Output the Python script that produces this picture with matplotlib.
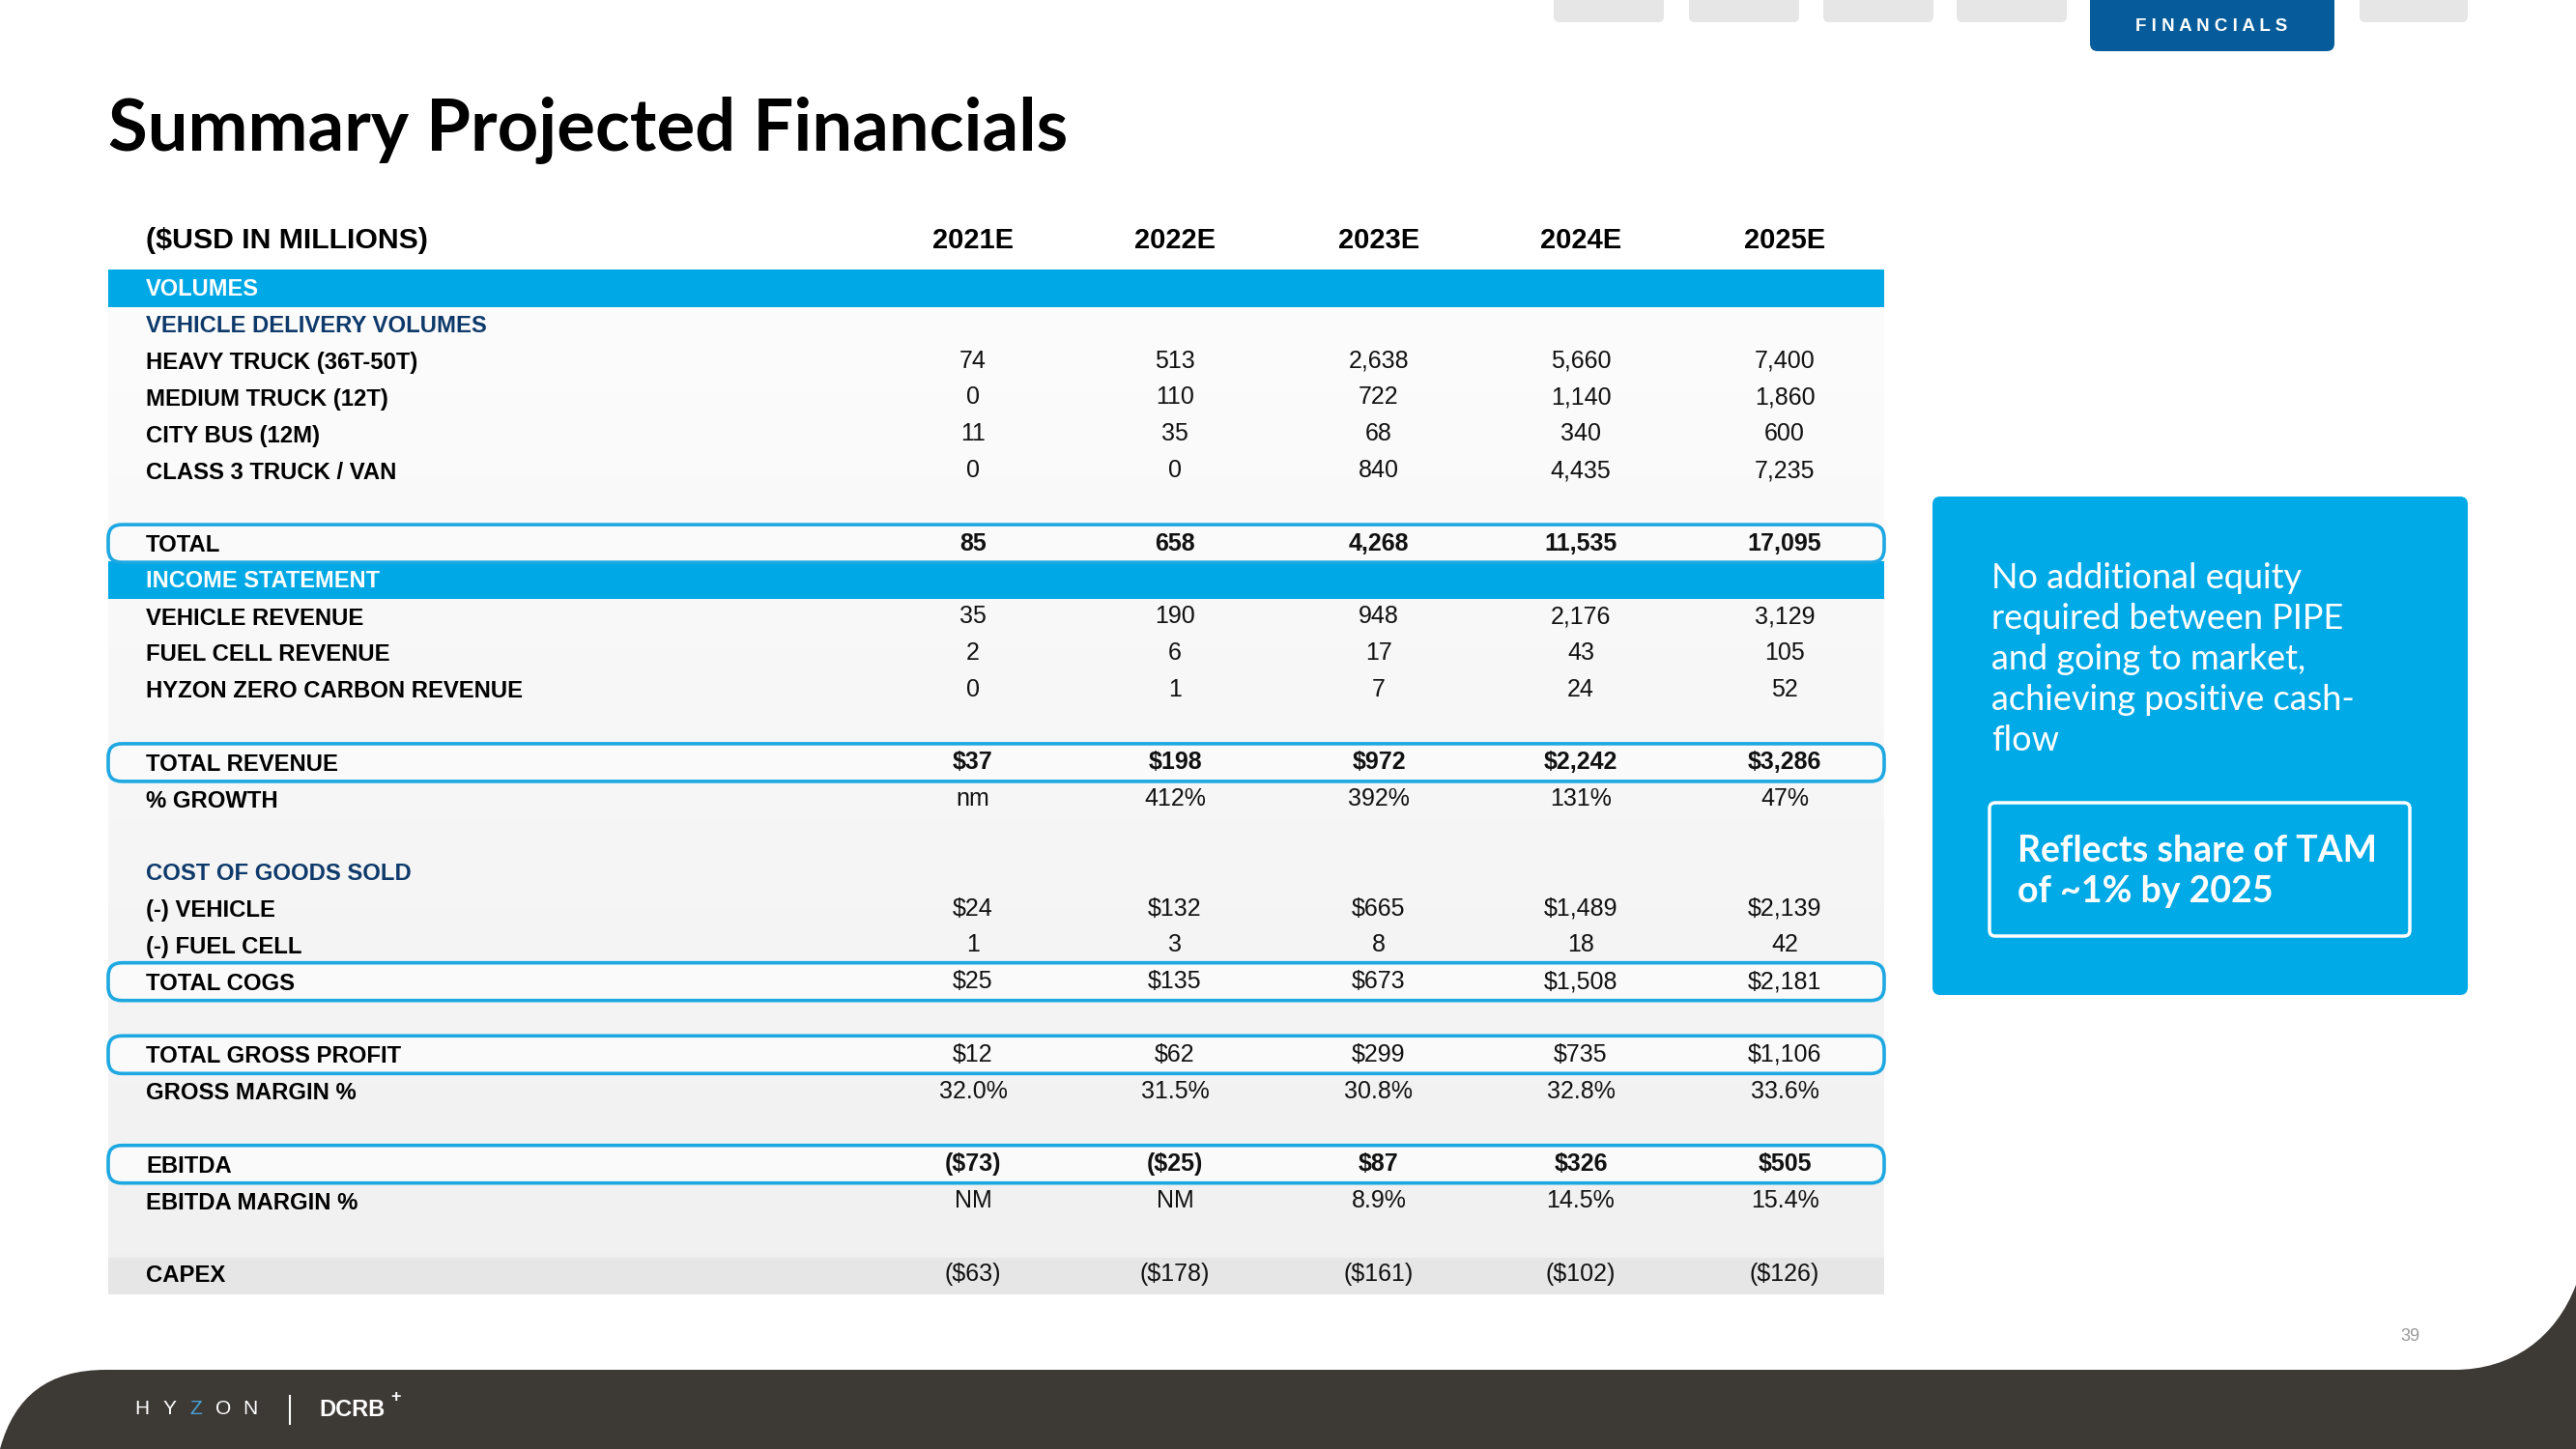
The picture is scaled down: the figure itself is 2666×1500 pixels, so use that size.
import numpy as np
import matplotlib
matplotlib.use("Agg")
import matplotlib.pyplot as plt
from matplotlib import font_manager
from matplotlib.patches import Rectangle, FancyBboxPatch, PathPatch
from matplotlib.path import Path

# data
years = ['2021E', '2022E', '2023E', '2024E', '2025E']
heavy_truck = [74, 513, 2638, 5660, 7400]
medium_truck = [0, 110, 722, 1140, 1860]
city_bus = [11, 35, 68, 340, 600]
class3_van = [0, 0, 840, 4435, 7235]
total_units = [85, 658, 4268, 11535, 17095]
vehicle_rev = [35, 190, 948, 2176, 3129]
fuel_cell_rev = [2, 6, 17, 43, 105]
zero_carbon_rev = [0, 1, 7, 24, 52]
total_rev = [37, 198, 972, 2242, 3286]
rev_growth = ['nm', '412%', '392%', '131%', '47%']
cogs_vehicle = [24, 132, 665, 1489, 2139]
cogs_fuel_cell = [1, 3, 8, 18, 42]
total_cogs = [25, 135, 673, 1508, 2181]
gross_profit = [12, 62, 299, 735, 1106]
gross_margin = [32.0, 31.5, 30.8, 32.8, 33.6]
ebitda = [-73, -25, 87, 326, 505]
ebitda_margin = ['NM', 'NM', '8.9%', '14.5%', '15.4%']
capex = [-63, -178, -161, -102, -126]

# fonts
names = {f.name for f in font_manager.fontManager.ttflist}
def pick(*cands):
    for c in cands:
        if c in names:
            return c
    return 'DejaVu Sans'
TAB = pick('Liberation Sans', 'Noto Sans')
TITLE = pick('Lato', 'Liberation Sans')
BODY = pick('Lato', 'Open Sans')

BLUE = '#00a9e6'
EDGE = '#1ea8e2'
NAVY = '#0e3a6b'
DARK = '#3d3935'


def cnt(v):
    return f'{v:,}'


def usd(v):
    return f'${v:,}' if v >= 0 else f'(${-v:,})'


def pct(v):
    return f'{v:.1f}%'


fig = plt.figure(figsize=(26.66, 15), dpi=100)
ax = fig.add_axes([0, 0, 1, 1])
ax.set_xlim(0, 2666)
ax.set_ylim(1500, 0)
ax.axis('off')

# top tabs
for x0, x1 in [(1608, 1722), (1748, 1862), (1887, 2001), (2025, 2139), (2442, 2554)]:
    ax.add_patch(FancyBboxPatch((x0, -20), x1 - x0, 43, boxstyle='round,pad=0,rounding_size=6',
                                fc='#e6e6e6', ec='none'))
ax.add_patch(FancyBboxPatch((2163, -20), 253, 73, boxstyle='round,pad=0,rounding_size=8',
                            fc='#065c9a', ec='none'))
ax.text(2289, 27, 'F I N A N C I A L S', color='white', fontsize=13.5, fontweight='bold',
        family=TAB, ha='center', va='center')

# title
ax.text(112, 135, 'Summary Projected Financials', fontsize=53.5, fontweight='bold',
        family=TITLE, va='center', ha='left', color='black')

# table
L, R = 112, 1950
col_x = [1007, 1216, 1427, 1636, 1847]
y0, pitch = 298, 37.8


def ry(i):
    return y0 + i * pitch


grad = np.linspace(0, 1, 200).reshape(-1, 1)
top_c = np.array([0.988, 0.988, 0.988])
bot_c = np.array([0.945, 0.945, 0.945])
img = top_c + grad[..., None] * (bot_c - top_c)
img = np.repeat(img, 2, axis=1)
ax.imshow(img, extent=[L, R, 1302, 318], aspect='auto', zorder=0)

ax.text(151, 249, '($USD IN MILLIONS)', fontsize=21.8, fontweight='bold', family=TAB,
        va='center', ha='left')
for x, yr in zip(col_x, years):
    ax.text(x, 249, yr, fontsize=21, fontweight='bold', family=TAB, ha='center', va='center')

bands = [(0, 'VOLUMES'), (8, 'INCOME STATEMENT')]
for i, name in bands:
    ax.add_patch(Rectangle((L, ry(i) - 19.5), R - L, 39, fc=BLUE, ec='none', zorder=1))
    ax.text(151, ry(i) + 1, name, color='white', fontsize=17, fontweight='bold', family=TAB,
            va='center', zorder=3)
ax.add_patch(Rectangle((L, ry(27) - 17), R - L, 38, fc='#e6e6e6', ec='none', zorder=1))

for i in [7, 13, 19, 21, 24]:
    ax.add_patch(FancyBboxPatch((L, ry(i) - 19.5), R - L, 39,
                                boxstyle='round,pad=0,rounding_size=14',
                                fc='#fafafa', ec=EDGE, lw=2.6, zorder=2))

for i, name in [(1, 'VEHICLE DELIVERY VOLUMES'), (16, 'COST OF GOODS SOLD')]:
    ax.text(151, ry(i) + 2, name, color=NAVY, fontsize=17.2, fontweight='bold', family=TAB,
            va='center', zorder=3)

rows = [
    (2, 'HEAVY TRUCK (36T-50T)', [cnt(v) for v in heavy_truck], False),
    (3, 'MEDIUM TRUCK (12T)', [cnt(v) for v in medium_truck], False),
    (4, 'CITY BUS (12M)', [cnt(v) for v in city_bus], False),
    (5, 'CLASS 3 TRUCK / VAN', [cnt(v) for v in class3_van], False),
    (7, 'TOTAL', [cnt(v) for v in total_units], True),
    (9, 'VEHICLE REVENUE', [cnt(v) for v in vehicle_rev], False),
    (10, 'FUEL CELL REVENUE', [cnt(v) for v in fuel_cell_rev], False),
    (11, 'HYZON ZERO CARBON REVENUE', [cnt(v) for v in zero_carbon_rev], False),
    (13, 'TOTAL REVENUE', [usd(v) for v in total_rev], True),
    (14, '% GROWTH', rev_growth, False),
    (17, '(-) VEHICLE', [usd(v) for v in cogs_vehicle], False),
    (18, '(-) FUEL CELL', [cnt(v) for v in cogs_fuel_cell], False),
    (19, 'TOTAL COGS', [usd(v) for v in total_cogs], False),
    (21, 'TOTAL GROSS PROFIT', [usd(v) for v in gross_profit], False),
    (22, 'GROSS MARGIN %', [pct(v) for v in gross_margin], False),
    (24, 'EBITDA', [usd(v) for v in ebitda], True),
    (25, 'EBITDA MARGIN %', ebitda_margin, False),
    (27, 'CAPEX', [usd(v) for v in capex], False),
]
for i, label, vals, bold in rows:
    y = ry(i)
    ax.text(151, y + 2, label, fontsize=17.2, fontweight='bold', family=TAB, va='center', zorder=3)
    for x, s in zip(col_x, vals):
        ax.text(x, y, s, fontsize=18, fontweight='bold' if bold else 'normal', family=TAB,
                ha='center', va='center', color='#111111', zorder=3)

# callout
ax.add_patch(FancyBboxPatch((2000, 514), 554, 516, boxstyle='round,pad=0,rounding_size=8',
                            fc='#00aae7', ec='none'))
ax.text(2061, 582, 'No additional equity\nrequired between PIPE\nand going to market,\n'
        'achieving positive cash-\nflow', color='white', fontsize=26, fontweight='normal',
        family=BODY, va='top', ha='left', linespacing=1.33)
ax.add_patch(FancyBboxPatch((2059, 831), 435, 138, boxstyle='round,pad=0,rounding_size=6',
                            fc='none', ec='white', lw=2.5))
ax.text(2088, 902, 'Reflects share of TAM\nof ~1% by 2025', color='white', fontsize=27,
        fontweight='bold', family=BODY, va='center', ha='left', linespacing=1.26)

# footer
verts = [(0, 1500), (15, 1445), (50, 1418), (110, 1418), (2540, 1418),
         (2600, 1418), (2645, 1385), (2666, 1330), (2666, 1500), (0, 1500)]
codes = [Path.MOVETO, Path.CURVE4, Path.CURVE4, Path.CURVE4, Path.LINETO,
         Path.CURVE4, Path.CURVE4, Path.CURVE4, Path.LINETO, Path.CLOSEPOLY]
ax.add_patch(PathPatch(Path(verts, codes), fc=DARK, ec='none'))
for k, ch in enumerate('HYZON'):
    ax.text(147 + k * 28, 1458, ch, color='#4aa3d8' if ch == 'Z' else 'white', fontsize=15,
            family=TAB, ha='center', va='center')
ax.plot([300, 300], [1445, 1474], color='white', lw=1.5)
ax.text(330, 1460, 'DCRB', color='white', fontsize=17, fontweight='bold', family=TAB,
        va='center')
ax.text(404, 1446, '+', color='white', fontsize=13, fontweight='bold', family=TAB, va='center')
ax.text(2494, 1383, '39', color='#999999', fontsize=13, family=TAB, ha='center', va='center')

fig.savefig('out.png', dpi=100, facecolor='white')
